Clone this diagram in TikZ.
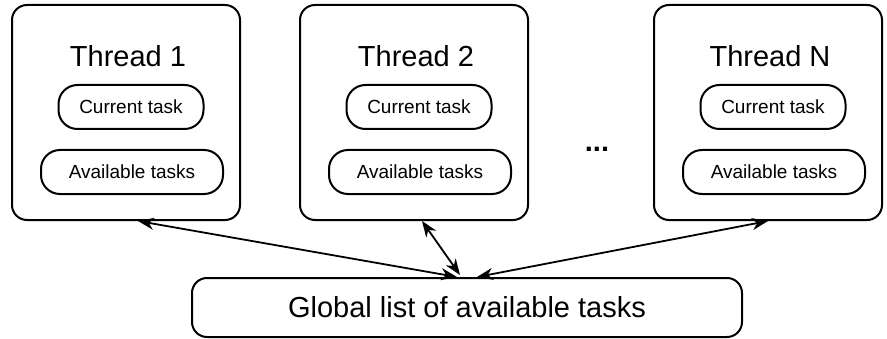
\documentclass[tikz,border=0pt]{standalone}
\usepackage{fontspec}
\setmainfont{Liberation Sans}
\usetikzlibrary{arrows.meta}
\tikzset{
  threadbox/.style={draw, line width=2pt, rounded corners=15pt, minimum width=228pt, minimum height=215pt},
  pill/.style={draw, line width=2pt, rounded corners=19pt, minimum height=44pt, inner sep=0pt, font=\fontsize{19}{22}\selectfont},
  bigtext/.style={font=\fontsize{29}{34}\selectfont},
  link/.style={<->, line width=1.8pt, >={Stealth[length=16pt,width=12pt,inset=5pt]}}
}
\begin{document}
\begin{tikzpicture}[x=1pt, y=1pt]
  \useasboundingbox (0,0) rectangle (887,338);

  % Cajas de los hilos
  \foreach \i/\x in {1/126, 2/414, N/768} {
    \node[threadbox] (t\i) at (\x, 225.5) {};
    \node[bigtext, anchor=base] (title\i) at (\x+2, 271) {Thread \i};
    \node[pill, minimum width=145pt] (cur\i) at (\x+5, 231) {Current task};
    \node[pill, minimum width=182pt] (avail\i) at (\x+6, 166) {Available tasks};
  }

  % Puntos entre hilos
  \node[bigtext, anchor=base] (dots) at (597, 186) {\textbf{...}};

  % Lista global
  \node[draw, line width=2pt, rounded corners=15pt, minimum width=550pt, minimum height=59pt, bigtext] (glob) at (467, 30.5) {Global list of available tasks};

  % Flechas
  \draw[link] ([xshift=12pt]t1.south) -- ([xshift=-10pt]glob.north);
  \draw[link] ([xshift=8pt]t2.south) -- ([xshift=-7pt, yshift=2pt]glob.north);
  \draw[link] ([xshift=0pt]tN.south) -- ([xshift=10pt]glob.north);
\end{tikzpicture}
\end{document}
